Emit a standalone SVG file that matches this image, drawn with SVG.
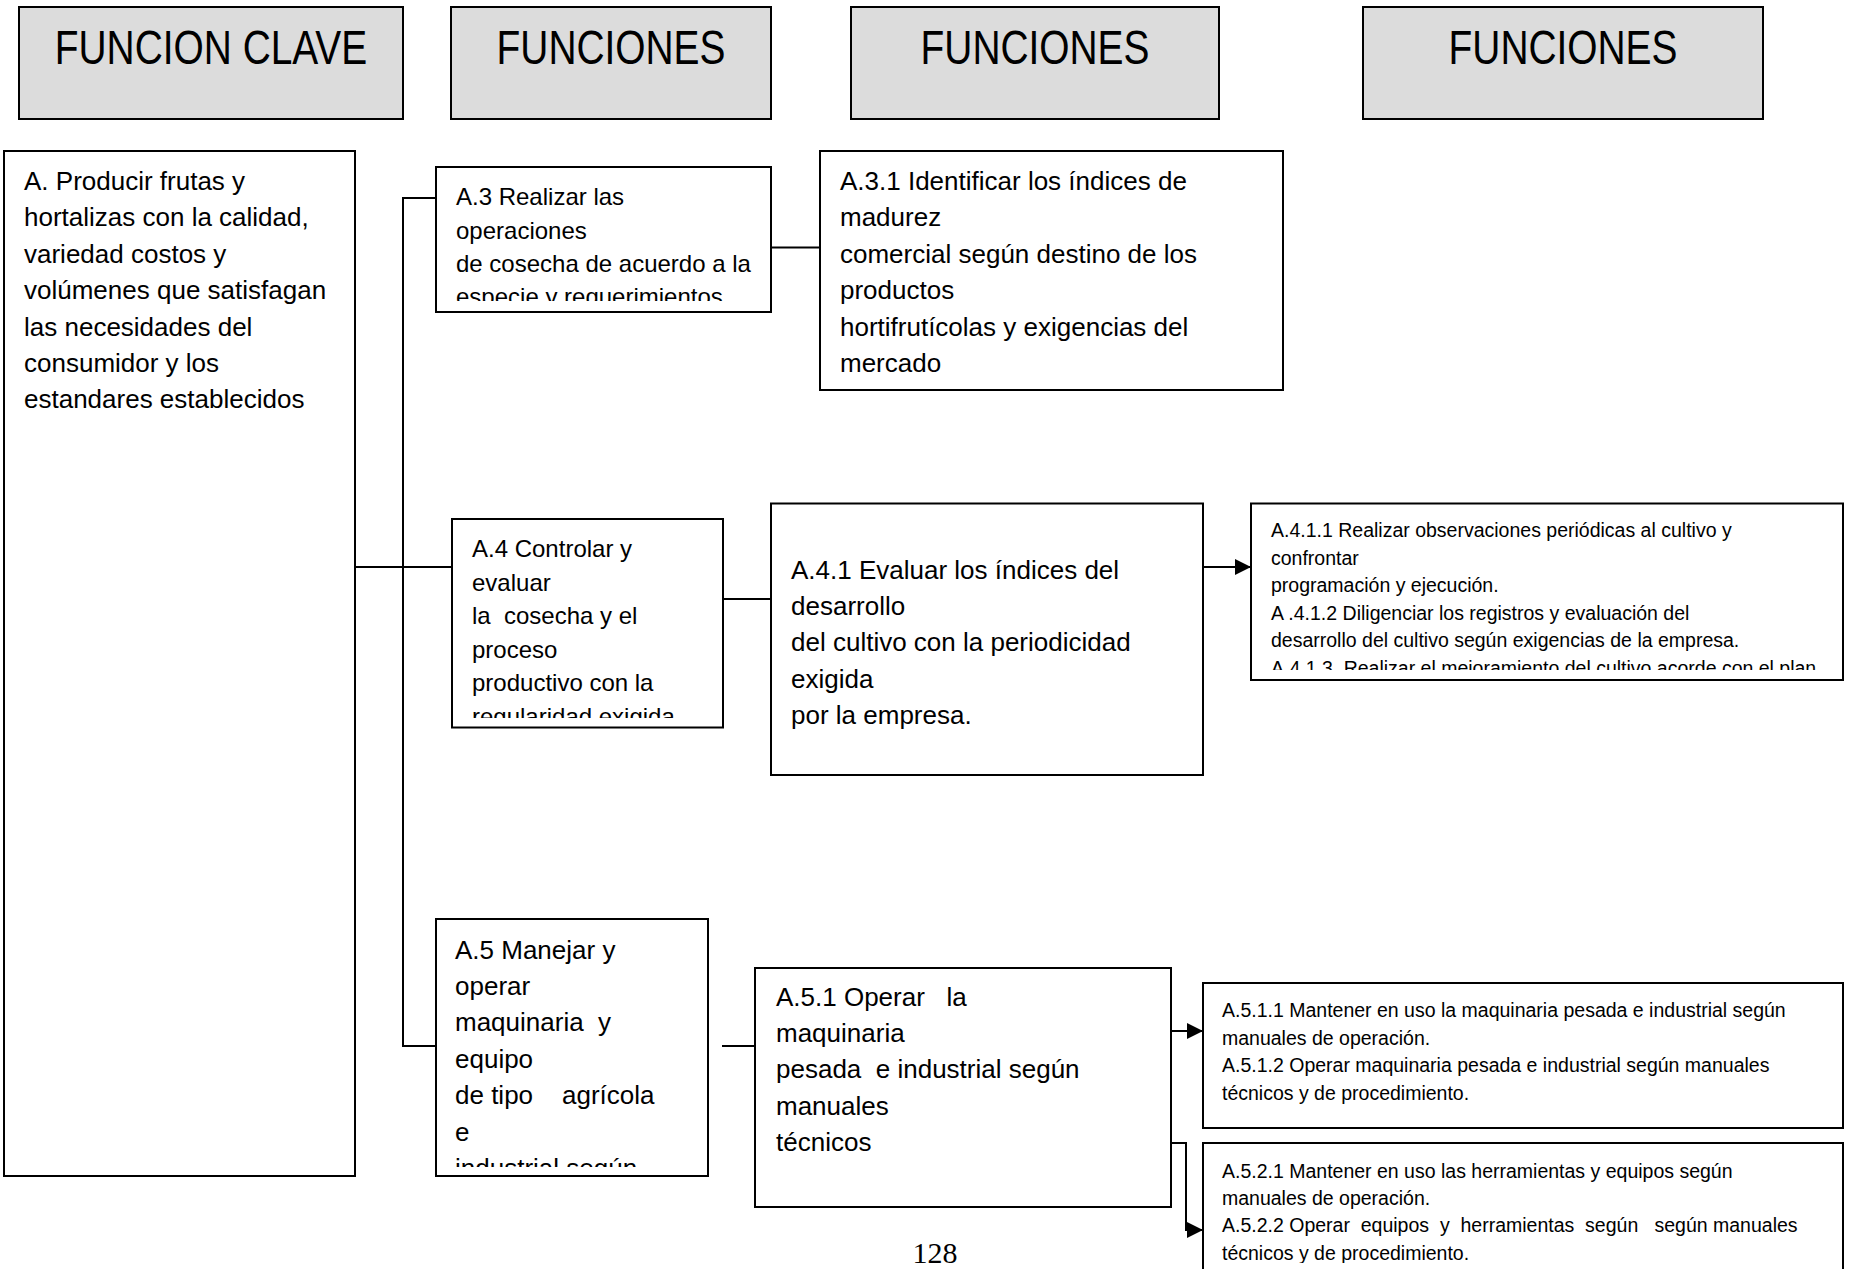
<svg xmlns="http://www.w3.org/2000/svg" width="1849" height="1269" viewBox="0 0 1849 1269">
<style>
.hdr{fill:#dcdcdc;stroke:#000;stroke-width:2}
.box{fill:#fff;stroke:#000;stroke-width:2}
.ht{font-family:"Liberation Sans",Arial,sans-serif;font-size:48px;fill:#000}
.t26{font-family:"Liberation Sans",Arial,sans-serif;font-size:26px;fill:#000}
.t24{font-family:"Liberation Sans",Arial,sans-serif;font-size:24px;fill:#000}
.t19{font-family:"Liberation Sans",Arial,sans-serif;font-size:19.5px;fill:#000}
.conn{fill:none;stroke:#000;stroke-width:2}
.pg{font-family:"Liberation Serif","Times New Roman",serif;font-size:30px;fill:#000}
</style>
<defs>
<marker id="arr" markerUnits="userSpaceOnUse" markerWidth="16" markerHeight="16" refX="16" refY="8" orient="auto">
<path d="M0,0 L16,8 L0,16 Z" fill="#000"/>
</marker>
<clipPath id="cA3"><rect x="437" y="168" width="333" height="133"/></clipPath>
<clipPath id="cA4"><rect x="453" y="520" width="269" height="198"/></clipPath>
<clipPath id="cA5"><rect x="437" y="920" width="270" height="247"/></clipPath>
<clipPath id="cA411"><rect x="1252" y="504" width="590" height="166"/></clipPath>
<clipPath id="cA521"><rect x="1204" y="1144" width="638" height="119"/></clipPath>
</defs>

<g id="header-1"><rect class="hdr" x="19" y="7" width="384" height="112"/><text class="ht" text-anchor="middle" transform="translate(211,64) scale(0.81,1)">FUNCION CLAVE</text></g>
<g id="header-2"><rect class="hdr" x="451" y="7" width="320" height="112"/><text class="ht" text-anchor="middle" transform="translate(611,64) scale(0.81,1)">FUNCIONES</text></g>
<g id="header-3"><rect class="hdr" x="851" y="7" width="368" height="112"/><text class="ht" text-anchor="middle" transform="translate(1035,64) scale(0.81,1)">FUNCIONES</text></g>
<g id="header-4"><rect class="hdr" x="1363" y="7" width="400" height="112"/><text class="ht" text-anchor="middle" transform="translate(1563,64) scale(0.81,1)">FUNCIONES</text></g>

<g id="connectors">
<path class="conn" d="M355,567 H452"/>
<path class="conn" d="M436,198 H403 V1046 H436"/>
<path class="conn" d="M771,247.5 H820"/>
<path class="conn" d="M723,599 H771"/>
<path class="conn" d="M1203,567 H1251" marker-end="url(#arr)"/>
<path class="conn" d="M722,1046 H755"/>
<path class="conn" d="M1171,1031 H1203" marker-end="url(#arr)"/>
<path class="conn" d="M1171,1143 H1186 V1230 H1203" marker-end="url(#arr)"/>
</g>

<g id="node-A">
<rect class="box" x="4" y="151" width="351" height="1025"/>
<text class="t26">
<tspan x="24" y="190">A. Producir frutas y</tspan>
<tspan x="24" y="226.4">hortalizas con la calidad,</tspan>
<tspan x="24" y="262.8">variedad costos y</tspan>
<tspan x="24" y="299.2">volúmenes que satisfagan</tspan>
<tspan x="24" y="335.6">las necesidades del</tspan>
<tspan x="24" y="372">consumidor y los</tspan>
<tspan x="24" y="408.4">estandares establecidos</tspan>
</text>
</g>

<g id="node-A3">
<rect class="box" x="436" y="167" width="335" height="145"/>
<text class="t24" clip-path="url(#cA3)">
<tspan x="456" y="205">A.3 Realizar las</tspan>
<tspan x="456" y="238.5">operaciones</tspan>
<tspan x="456" y="272">de cosecha de acuerdo a la</tspan>
<tspan x="456" y="305">especie y requerimientos</tspan>
</text>
</g>

<g id="node-A31">
<rect class="box" x="820" y="151" width="463" height="239"/>
<text class="t26">
<tspan x="840" y="190">A.3.1 Identificar los índices de</tspan>
<tspan x="840" y="226.4">madurez</tspan>
<tspan x="840" y="262.8">comercial según destino de los</tspan>
<tspan x="840" y="299.2">productos</tspan>
<tspan x="840" y="335.6">hortifrutícolas y exigencias del</tspan>
<tspan x="840" y="372">mercado</tspan>
</text>
</g>

<g id="node-A4">
<rect class="box" x="452" y="519" width="271" height="208.5"/>
<text class="t24" clip-path="url(#cA4)" xml:space="preserve"><tspan x="472" y="557">A.4 Controlar y</tspan><tspan x="472" y="590.5">evaluar</tspan><tspan x="472" y="624">la  cosecha y el</tspan><tspan x="472" y="657.5">proceso</tspan><tspan x="472" y="691">productivo con la</tspan><tspan x="472" y="725">regularidad exigida</tspan></text>
</g>

<g id="node-A41">
<rect class="box" x="771" y="503.5" width="432" height="271.5"/>
<text class="t26">
<tspan x="791" y="578.5">A.4.1 Evaluar los índices del</tspan>
<tspan x="791" y="614.9">desarrollo</tspan>
<tspan x="791" y="651.3">del cultivo con la periodicidad</tspan>
<tspan x="791" y="687.7">exigida</tspan>
<tspan x="791" y="724.1">por la empresa.</tspan>
</text>
</g>

<g id="node-A411">
<rect class="box" x="1251" y="503.5" width="592" height="176.5"/>
<text class="t19" clip-path="url(#cA411)" xml:space="preserve"><tspan x="1271" y="537">A.4.1.1 Realizar observaciones periódicas al cultivo y</tspan><tspan x="1271" y="564.6">confrontar</tspan><tspan x="1271" y="592.2">programación y ejecución.</tspan><tspan x="1271" y="619.8">A .4.1.2 Diligenciar los registros y evaluación del</tspan><tspan x="1271" y="647.4">desarrollo del cultivo según exigencias de la empresa.</tspan><tspan x="1271" y="675">A.4.1.3  Realizar el mejoramiento del cultivo acorde con el plan</tspan></text>
</g>

<g id="node-A5">
<rect class="box" x="436" y="919" width="272" height="257"/>
<text class="t26" clip-path="url(#cA5)" xml:space="preserve"><tspan x="455" y="958.5">A.5 Manejar y</tspan><tspan x="455" y="994.9">operar</tspan><tspan x="455" y="1031.3">maquinaria  y</tspan><tspan x="455" y="1067.7">equipo</tspan><tspan x="455" y="1104.1">de tipo    agrícola</tspan><tspan x="455" y="1140.5">e</tspan><tspan x="455" y="1176.9">industrial según</tspan></text>
</g>

<g id="node-A51">
<rect class="box" x="755" y="968" width="416" height="239"/>
<text class="t26" xml:space="preserve"><tspan x="776" y="1005.5">A.5.1 Operar   la</tspan><tspan x="776" y="1041.9">maquinaria</tspan><tspan x="776" y="1078.3">pesada  e industrial según</tspan><tspan x="776" y="1114.7">manuales</tspan><tspan x="776" y="1151.1">técnicos</tspan></text>
</g>

<g id="node-A511">
<rect class="box" x="1203" y="983" width="640" height="145"/>
<text class="t19">
<tspan x="1222" y="1017">A.5.1.1 Mantener en uso la maquinaria pesada e industrial según</tspan>
<tspan x="1222" y="1044.6">manuales de operación.</tspan>
<tspan x="1222" y="1072.2">A.5.1.2 Operar maquinaria pesada e industrial según manuales</tspan>
<tspan x="1222" y="1099.8">técnicos y de procedimiento.</tspan>
</text>
</g>

<g id="node-A521">
<rect class="box" x="1203" y="1143" width="640" height="140"/>
<text class="t19" clip-path="url(#cA521)" xml:space="preserve"><tspan x="1222" y="1177.5">A.5.2.1 Mantener en uso las herramientas y equipos según</tspan><tspan x="1222" y="1204.5">manuales de operación.</tspan><tspan x="1222" y="1232">A.5.2.2 Operar  equipos  y  herramientas  según   según manuales</tspan><tspan x="1222" y="1259.5">técnicos y de procedimiento.</tspan></text>
</g>

<text class="pg" x="935" y="1263" text-anchor="middle">128</text>
</svg>
